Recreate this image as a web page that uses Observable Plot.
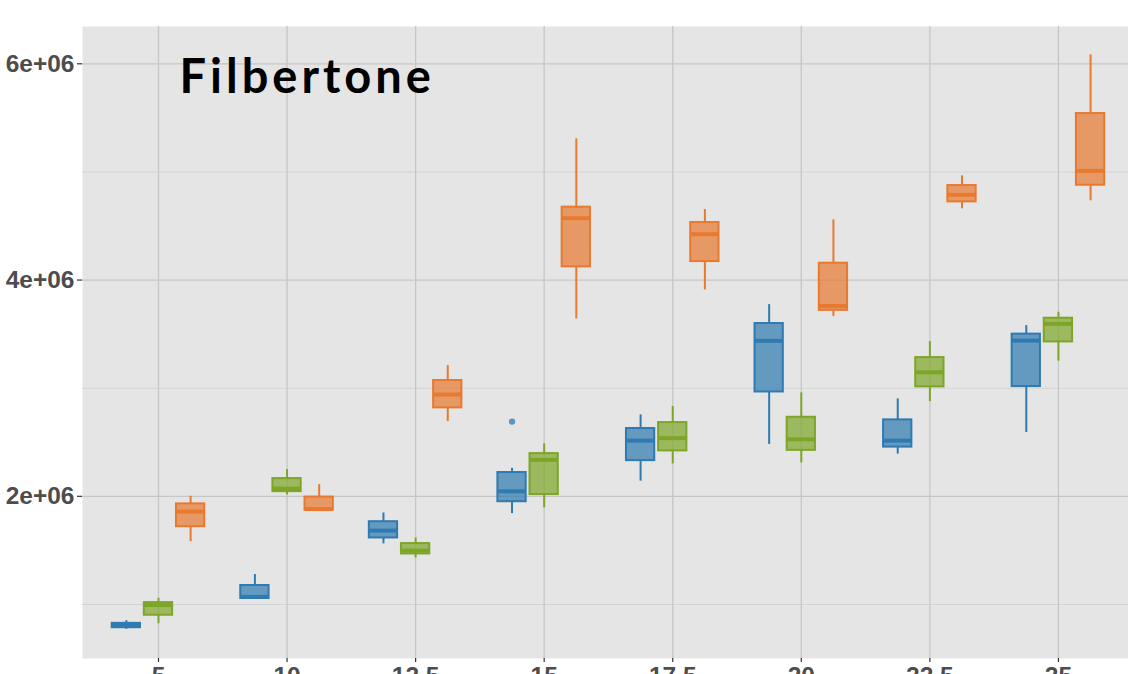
<!DOCTYPE html>
<html>
<head>
<meta charset="utf-8">
<script src="https://cdn.jsdelivr.net/npm/d3@7"></script>
<script src="https://cdn.jsdelivr.net/npm/@observablehq/plot@0.6"></script>
<style>
  html, body { margin: 0; padding: 0; background: #ffffff; overflow: hidden; }
  #chart { width: 1128px; height: 674px; overflow: hidden; }
  g[aria-label="text"] text { letter-spacing: 4px; }
</style>
</head>
<body>
<div id="chart"></div>
<script>
// ---- data ----
const categories = ["5", "10", "12.5", "15", "17.5", "20", "22.5", "25"];
const groups = ["A", "B", "C"];

// group A (blue)
const aMin = [770000, 1050000, 1560000, 1840000, 2140000, 2480000, 2390000, 2590000];
const aQ1  = [785000, 1055000, 1615000, 1950000, 2330000, 2965000, 2455000, 3015000];
const aMed = [805000, 1070000, 1683000, 2046000, 2515000, 3438000, 2515000, 3440000];
const aQ3  = [825000, 1175000, 1765000, 2220000, 2627000, 3598000, 2707000, 3500000];
const aMax = [850000, 1276000, 1846000, 2259000, 2753000, 3773000, 2901000, 3579000];
const aOutCat = ["15"];
const aOutVal = [2691000];

// group B (green)
const bMin = [822000, 2013000, 1430000, 1893000, 2300000, 2309000, 2876000, 3249000];
const bQ1  = [900000, 2043000, 1467000, 2016000, 2420000, 2425000, 3012000, 3428000];
const bMed = [994000, 2071000, 1498000, 2337000, 2538000, 2527000, 3147000, 3595000];
const bQ3  = [1017000, 2164000, 1563000, 2395000, 2682000, 2731000, 3283000, 3647000];
const bMax = [1057000, 2247000, 1615000, 2485000, 2830000, 2957000, 3431000, 3702000];

// group C (orange)
const cMin = [1581000, 1872000, 2691000, 3641000, 3909000, 3662000, 4659000, 4733000];
const cQ1  = [1719000, 1872000, 2818000, 4122000, 4171000, 3720000, 4723000, 4877000];
const cMed = [1859000, 1882000, 2941000, 4572000, 4424000, 3761000, 4788000, 5010000];
const cQ3  = [1930000, 1993000, 3071000, 4674000, 4532000, 4156000, 4874000, 5540000];
const cMax = [2000000, 2108000, 3209000, 5306000, 4652000, 4557000, 4964000, 6083000];

const yMajorTicks = [2000000, 4000000, 6000000];
const yTickLabels = ["2e+06", "4e+06", "6e+06"];
const yMinorTicks = [1000000, 3000000, 5000000];
const title = "Filbertone";

// ---- build table ----
const series = {
  A: {min: aMin, q1: aQ1, med: aMed, q3: aQ3, max: aMax},
  B: {min: bMin, q1: bQ1, med: bMed, q3: bQ3, max: bMax},
  C: {min: cMin, q1: cQ1, med: cMed, q3: cQ3, max: cMax}
};
const dodge = {A: -0.25, B: 0, C: 0.25};
const hw = 0.11;
const rows = [];
for (const g of groups) {
  categories.forEach((c, i) => {
    const s = series[g];
    rows.push({group: g, cat: c, xc: i + dodge[g],
      min: s.min[i], q1: s.q1[i], med: s.med[i], q3: s.q3[i], max: s.max[i]});
  });
}
const outliers = aOutCat.map((c, k) => ({group: "A", xc: categories.indexOf(c) + dodge.A, v: aOutVal[k]}));
const catIdx = categories.map((c, i) => i);

const colors = ["#2f7ab0", "#7da628", "#e8792f"];
const gridMajor = "#c6c6c6";
const gridMinor = "#d3d3d3";

const chart = Plot.plot({
  width: 1128,
  height: 700,
  marginLeft: 82,
  marginRight: 0,
  marginTop: 26,
  marginBottom: 42,
  style: {background: "#ffffff", fontFamily: "'Liberation Sans', Arial, sans-serif"},
  x: {type: "linear", domain: [-0.591, 7.545], axis: null},
  y: {domain: [500000, 6345000], axis: null},
  color: {domain: groups, range: colors},
  marks: [
    Plot.frame({fill: "#e5e5e5", stroke: "none"}),
    Plot.ruleY(yMinorTicks, {stroke: gridMinor, strokeWidth: 1.1}),
    Plot.ruleY(yMajorTicks, {stroke: gridMajor, strokeWidth: 1.3}),
    Plot.ruleX(catIdx, {stroke: gridMajor, strokeWidth: 1.3}),
    Plot.axisY(yMajorTicks, {
      tickFormat: (d, i) => yTickLabels[yMajorTicks.indexOf(d)],
      tickSize: 5, tickPadding: 3, stroke: "#333333", fill: "#4d4d4d",
      fontSize: 24.5, fontWeight: "bold", strokeWidth: 1.2
    }),
    Plot.axisX(catIdx, {
      tickFormat: i => categories[i],
      tickSize: 4, tickPadding: 4, stroke: "#333333", fill: "#4d4d4d",
      fontSize: 24.5, fontWeight: "bold", strokeWidth: 1.2
    }),
    // whiskers
    Plot.ruleX(rows, {x: "xc", y1: "q3", y2: "max", stroke: "group", strokeWidth: 2}),
    Plot.ruleX(rows, {x: "xc", y1: "min", y2: "q1", stroke: "group", strokeWidth: 2}),
    // boxes
    Plot.rect(rows, {x1: d => d.xc - hw, x2: d => d.xc + hw, y1: "q1", y2: "q3",
      fill: "group", fillOpacity: 0.7, stroke: "group", strokeWidth: 2}),
    // medians
    Plot.ruleY(rows, {x1: d => d.xc - hw, x2: d => d.xc + hw, y: "med", stroke: "group", strokeWidth: 4}),
    // outliers
    Plot.dot(outliers, {x: "xc", y: "v", fill: "group", fillOpacity: 0.75, r: 3.2, stroke: "none"}),
    // title
    Plot.text([title], {frameAnchor: "top-left", dx: 97, dy: 66, textAnchor: "start", lineAnchor: "bottom",
      fontSize: 47, fontWeight: "bold", fontFamily: "Lato, 'Open Sans', sans-serif", fill: "#000000"})
  ]
});
document.getElementById("chart").appendChild(chart);
</script>
</body>
</html>
